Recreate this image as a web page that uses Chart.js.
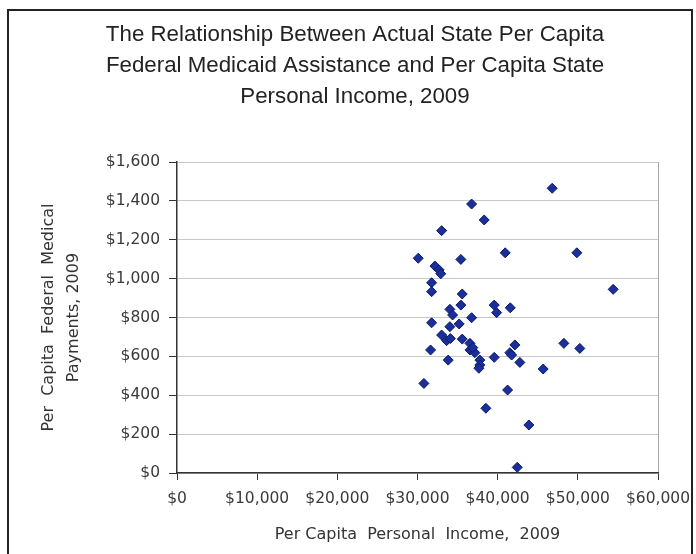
<!DOCTYPE html>
<html>
<head>
<meta charset="utf-8">
<script src="https://cdn.jsdelivr.net/npm/chart.js@4"></script>
<style>
    html, body { margin: 0; padding: 0; background: #fff; overflow: hidden; }
    #wrap { position: relative; width: 696px; height: 554px; }
    #frame {
        position: absolute; left: 7px; top: 9px; width: 682px; height: 620px;
        border: 2px solid #222; pointer-events: none;
    }
</style>
</head>
<body>
<div id="wrap">
    <canvas id="scatter" width="696" height="554"></canvas>
    <div id="frame"></div>
</div>
<script>
// Per capita personal income, 2009 (x) and per capita federal Medicaid payments, 2009 (y)
const incomeValues = [
    46800, 36750, 38320, 33010, 30090, 35410, 40940, 49880, 32170, 32700,
    32900, 31760, 31760, 54410, 35580, 35410, 39570, 39870, 41570, 34040,
    34380, 36750, 31760, 34040, 35200, 33010, 33630, 34100, 35580, 36540,
    31630, 36540, 37160, 33830, 37780, 37780, 37660, 39570, 41520, 42150,
    41740, 42770, 45680, 48260, 50250, 30800, 41240, 38530, 43890, 42440,
    36900
];
const medicaidValues = [
    1465, 1384, 1302, 1247, 1105, 1099, 1133, 1133, 1065, 1045,
    1025, 979, 933, 945, 921, 864, 864, 825, 850, 842,
    813, 799, 773, 753, 767, 710, 681, 692, 689, 667,
    633, 633, 619, 581, 581, 556, 539, 595, 619, 659,
    607, 569, 535, 667, 641, 461, 427, 333, 247, 29,
    645
];

const xTickLabels = ['$0', '$10,000', '$20,000', '$30,000', '$40,000', '$50,000', '$60,000'];
const yTickLabels = ['$0', '$200', '$400', '$600', '$800', '$1,000', '$1,200', '$1,400', '$1,600'];

const titleLines = [
    'The Relationship Between Actual State Per Capita',
    'Federal Medicaid Assistance and Per Capita State',
    'Personal Income, 2009'
];
const xTitle = 'Per Capita  Personal  Income,  2009';
const yTitle = ['Per  Capita  Federal  Medical', 'Payments, 2009'];

const points = incomeValues.map((x, i) => ({ x: x, y: medicaidValues[i] }));

const tickFont = { family: '"DejaVu Sans", sans-serif', size: 15.5 };
const axisTitleFont = { family: '"DejaVu Sans", sans-serif', size: 16 };

new Chart(document.getElementById('scatter'), {
    type: 'scatter',
    data: {
        datasets: [{
            label: 'States',
            data: points,
            pointStyle: 'rectRot',
            pointRadius: 5,
            pointHoverRadius: 5,
            backgroundColor: '#1b2f9c',
            borderColor: '#0b1a66',
            borderWidth: 1
        }]
    },
    options: {
        responsive: false,
        animation: false,
        layout: {
            padding: { left: 52, right: 38, top: 10, bottom: 0 }
        },
        plugins: {
            legend: { display: false },
            tooltip: { enabled: false },
            title: {
                display: true,
                text: titleLines,
                color: '#222',
                font: { family: '"Liberation Sans", Arial, sans-serif', size: 22.3, weight: 'normal', lineHeight: 1.376 },
                padding: { top: 10, bottom: 50 }
            }
        },
        scales: {
            x: {
                type: 'linear',
                min: 0,
                max: 60000,
                afterBuildTicks: (scale) => {
                    scale.ticks = xTickLabels.map((t, i) => ({ value: i * 10000 }));
                },
                afterFit: (scale) => {
                    scale.height = 81;
                    // labels overhang into the layout padding, keep plot edge fixed
                    scale.paddingLeft = 0;
                    scale.paddingRight = 0;
                },
                ticks: {
                    color: '#3a3a3a',
                    font: tickFont,
                    padding: 10,
                    maxRotation: 0,
                    autoSkip: false,
                    callback: (value, index) => xTickLabels[index]
                },
                grid: {
                    drawOnChartArea: true,
                    color: (ctx) => ctx.index === xTickLabels.length - 1 ? '#a8a8a8' : 'rgba(0,0,0,0)',
                    tickColor: '#333',
                    tickLength: 7,
                    lineWidth: 1
                },
                border: { display: true, color: '#333', width: 1.5 },
                title: {
                    display: true,
                    text: xTitle,
                    color: '#333',
                    font: axisTitleFont,
                    padding: { top: 0, bottom: 10 }
                }
            },
            y: {
                min: 0,
                max: 1600,
                afterBuildTicks: (scale) => {
                    scale.ticks = yTickLabels.map((t, i) => ({ value: i * 200 }));
                },
                afterFit: (scale) => { scale.width = 125; },
                ticks: {
                    color: '#3a3a3a',
                    font: tickFont,
                    padding: 9,
                    callback: (value, index) => yTickLabels[index]
                },
                grid: {
                    color: '#c8c8c8',
                    tickColor: '#333',
                    tickLength: 8,
                    lineWidth: 1
                },
                border: { display: true, color: '#333', width: 1.5 },
                title: {
                    display: true,
                    text: yTitle,
                    color: '#333',
                    font: { family: '"DejaVu Sans", sans-serif', size: 16, lineHeight: 1.5625 },
                    padding: { top: -15.2, bottom: 0 }
                }
            }
        }
    }
});
</script>
</body>
</html>
